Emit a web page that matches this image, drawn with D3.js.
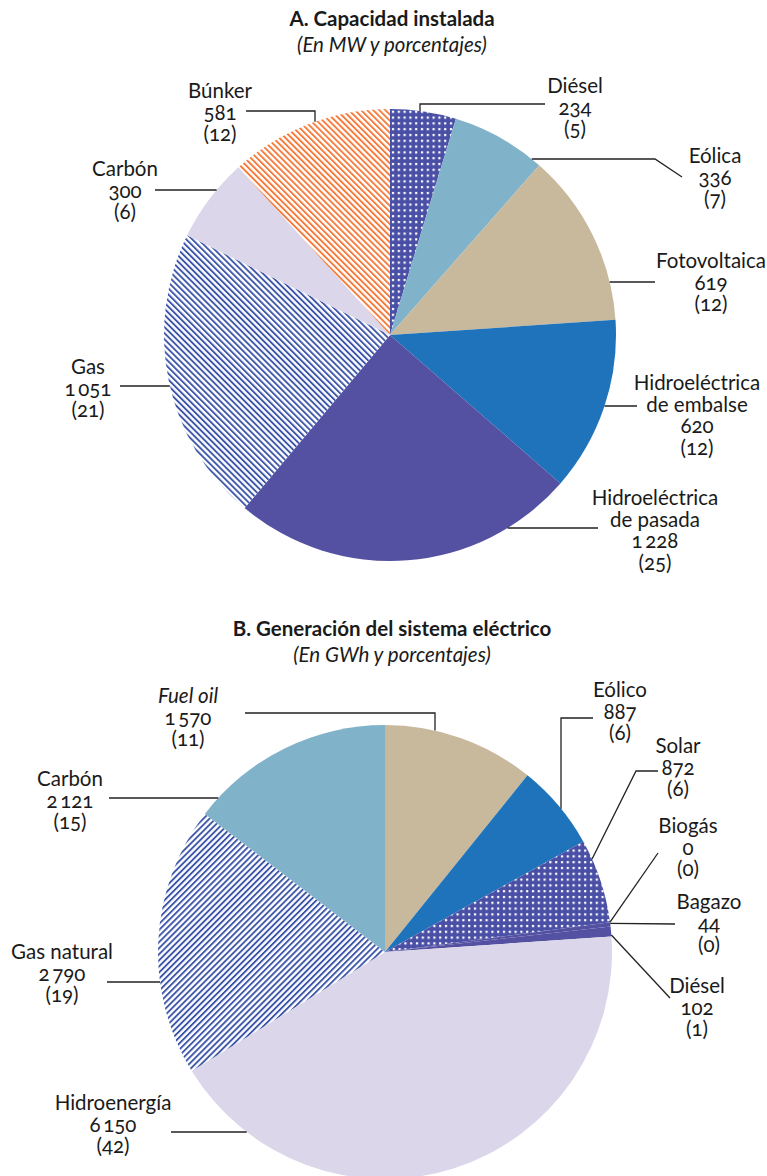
<!DOCTYPE html>
<html><head><meta charset="utf-8">
<script src="https://cdn.jsdelivr.net/npm/d3@7"></script>
<style>
body{margin:0;background:#fff;}
svg text{font-family:Lato,"Open Sans",sans-serif;font-size:20.5px;fill:#1a1a1a;font-feature-settings:"onum" 1;font-variant-numeric:oldstyle-nums;}
</style></head><body>
<svg id="chart" width="767" height="1176"></svg>
<script>
// ---- Data ----
const capCategories = ["Diésel","Eólica","Fotovoltaica","Hidroeléctrica de embalse","Hidroeléctrica de pasada","Gas","Carbón","Búnker"];
const capValues     = [234, 336, 619, 620, 1228, 1051, 300, 581];
const capPercents   = [5, 7, 12, 12, 25, 21, 6, 12];

const genCategories = ["Fuel oil","Eólico","Solar","Biogás","Bagazo","Diésel","Hidroenergía","Gas natural","Carbón"];
const genValues     = [1570, 887, 872, 0, 44, 102, 6150, 2790, 2121];
const genPercents   = [11, 6, 6, 0, 0, 1, 42, 19, 15];

// ---- Styles / layout ----
const fmt = v => { const s = String(v); return s.length > 3 ? s.slice(0, s.length-3) + "\u2009" + s.slice(-3) : s; };

const capFills = ["url(#dots)","#80b2ca","#c8b99d","#1f73ba","#5450a2","url(#hatchBlueBack)","#dbd6ea","url(#hatchOrange)"];
const genFills = ["#c8b99d","#1f73ba","url(#dots)","#5450a2","#5450a2","#5450a2","#dbd6ea","url(#hatchBlueFwd)","#80b2ca"];

// leader modes: "drop" = horizontal then vertical to pie edge, "horiz" = horizontal to pie edge, "angle" = straight to arc point
const capLayout = [
  {x:575, y:93,  lines:["Diésel"], t:0.44, pts:[[545,104],[420,104]], mode:"drop"},
  {x:715, y:163, lines:["Eólica"], t:0.91, pts:[[682,177],[655,159]], mode:"horiz"},
  {x:711, y:268, lines:["Fotovoltaica"], t:0.78, pts:[[655,282]], mode:"horiz"},
  {x:697, y:390, lines:["Hidroeléctrica","de embalse"], t:0.49, pts:[[637,406]], mode:"horiz"},
  {x:655, y:505, lines:["Hidroeléctrica","de pasada"], t:0.20, pts:[[598,528]], mode:"horiz"},
  {x:88,  y:374, lines:["Gas"], t:0.47, pts:[[120,386]], mode:"horiz"},
  {x:125, y:176, lines:["Carbón"], t:0.63, pts:[[155,190]], mode:"horiz"},
  {x:220, y:98,  lines:["Búnker"], t:0.53, pts:[[246,111],[315,111]], mode:"drop"}
];
const genLayout = [
  {x:188, y:703, lines:["Fuel oil"], italic:true, t:0.33, pts:[[245,713],[435,713]], mode:"drop"},
  {x:620, y:697, lines:["Eólico"], t:0.56, pts:[[593,718],[561,718]], mode:"drop"},
  {x:678, y:753, lines:["Solar"], t:0.23, pts:[[658,771],[636,771]], mode:"angle"},
  {x:688, y:833, lines:["Biogás"], t:0.5, pts:[[658,853]], mode:"angle"},
  {x:709, y:909, lines:["Bagazo"], t:0.3, pts:[[675,924]], mode:"angle"},
  {x:697, y:993, lines:["Diésel"], t:0.86, pts:[[670,998]], mode:"angle"},
  {x:113, y:1110, lines:["Hidroenergía"], t:0.87, pts:[[171,1132]], mode:"horiz"},
  {x:62,  y:959, lines:["Gas natural"], t:0.35, pts:[[107,982]], mode:"horiz"},
  {x:70,  y:786, lines:["Carbón"], t:0.10, pts:[[109,798]], mode:"horiz"}
];

const svg = d3.select("#chart");
const defs = svg.append("defs");

// dotted pattern
const pd = defs.append("pattern").attr("id","dots").attr("patternUnits","userSpaceOnUse").attr("width",5.8).attr("height",5.8);
pd.append("rect").attr("width",5.8).attr("height",5.8).attr("fill","#4a4fa6");
pd.append("rect").attr("x",1.9).attr("y",1.9).attr("width",2.2).attr("height",2.2).attr("fill","#fff");

function hatch(id, color, rot){
  const p = defs.append("pattern").attr("id",id).attr("patternUnits","userSpaceOnUse")
    .attr("width",4.3).attr("height",10).attr("patternTransform",`rotate(${rot})`);
  p.append("rect").attr("width",4.3).attr("height",10).attr("fill","#fff");
  p.append("rect").attr("width",1.9).attr("height",10).attr("fill",color);
}
hatch("hatchOrange","#f47b3b",-45);
hatch("hatchBlueBack","#3e56a8",-45);
hatch("hatchBlueFwd","#3e56a8",45);

function title(y, main, sub){
  svg.append("text").attr("x",392).attr("y",y).attr("text-anchor","middle")
    .style("font-weight","bold").text(main);
  svg.append("text").attr("x",392).attr("y",y+26).attr("text-anchor","middle")
    .style("font-style","italic").text(sub);
}

function drawPie(cx, cy, r, cats, vals, pcts, fills, layout){
  const data = cats.map((c,i)=>({cat:c, value:vals[i], pct:pcts[i], fill:fills[i], lay:layout[i]}));
  const pie = d3.pie().sort(null).value(d=>d.value);
  const arcs = pie(data);
  const arc = d3.arc().innerRadius(0).outerRadius(r);
  const g = svg.append("g").attr("transform",`translate(${cx},${cy})`);
  g.selectAll("path").data(arcs).join("path").attr("d",arc).attr("fill",d=>d.data.fill);

  const lg = svg.append("g");
  arcs.forEach(a=>{
    const L = a.data.lay;
    const pts = L.pts.map(p=>p.slice());
    const last = pts[pts.length-1];
    let end;
    if (L.mode === "horiz"){
      const dy = last[1]-cy;
      const dx = Math.sqrt(Math.max(0, r*r - dy*dy));
      end = [last[0] < cx ? cx - dx : cx + dx, last[1]];
    } else if (L.mode === "drop"){
      end = [last[0], cy - Math.sqrt(r*r - (last[0]-cx)**2)];
    } else {
      const ang = a.startAngle + (a.endAngle - a.startAngle)*L.t;
      end = [cx + r*Math.sin(ang), cy - r*Math.cos(ang)];
    }
    lg.append("path").attr("d", d3.line()([...pts, end]))
      .attr("fill","none").attr("stroke","#222").attr("stroke-width",1.3);

    const tx = lg.append("text").attr("text-anchor","middle");
    const lines = [...L.lines, fmt(a.data.value), `(${a.data.pct})`];
    lines.forEach((s,i)=>{
      const ts = tx.append("tspan").attr("x",L.x).attr("y",L.y + i*21.5).text(s);
      if (i===0 && L.italic) ts.style("font-style","italic");
    });
  });
}

title(26, "A. Capacidad instalada", "(En MW y porcentajes)");
drawPie(390, 335, 226, capCategories, capValues, capPercents, capFills, capLayout);

title(636, "B. Generación del sistema eléctrico", "(En GWh y porcentajes)");
drawPie(385, 952, 227, genCategories, genValues, genPercents, genFills, genLayout);
</script>
</body></html>
